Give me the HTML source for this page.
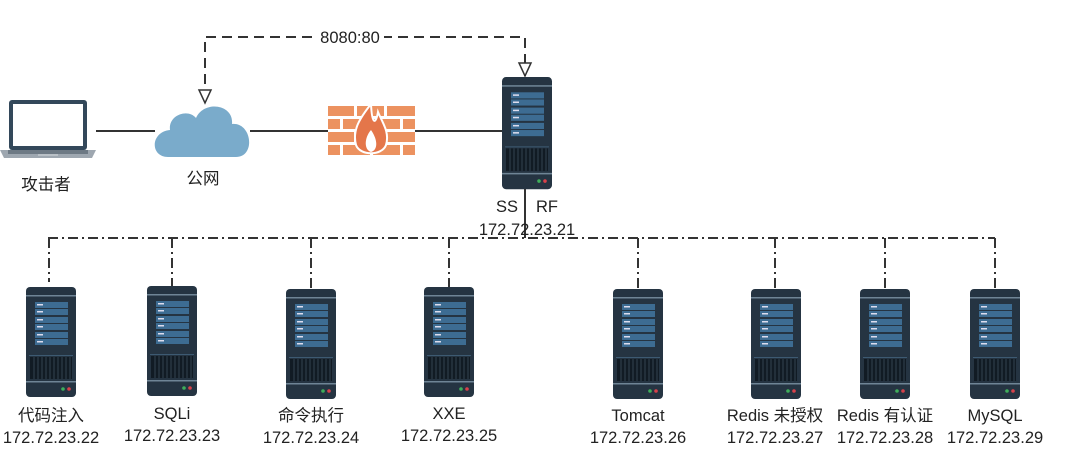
<!DOCTYPE html>
<html><head><meta charset="utf-8"><style>
html,body{margin:0;padding:0;background:#fff;}
svg{display:block;}
text{font-family:"Liberation Sans","Noto Sans CJK SC",sans-serif;fill:#222;font-size:16.5px;}
</style></head><body>
<svg width="1080" height="464" viewBox="0 0 1080 464" xmlns="http://www.w3.org/2000/svg">
<defs>
<g id="srv">
<rect x="0" y="0" width="50" height="110" rx="4" fill="#253442"/>
<rect x="0" y="8" width="50" height="1.5" fill="#6f8596"/>
<rect x="9" y="15" width="33" height="6" fill="#3d6c92"/>
<rect x="9" y="22" width="33" height="6" fill="#3d6c92"/>
<rect x="9" y="30" width="33" height="6" fill="#3d6c92"/>
<rect x="9" y="37" width="33" height="6" fill="#3d6c92"/>
<rect x="9" y="45" width="33" height="6" fill="#3d6c92"/>
<rect x="9" y="52" width="33" height="6" fill="#3d6c92"/>
<rect x="11" y="17" width="6" height="1.5" fill="#dde"/>
<rect x="11" y="24" width="6" height="1.5" fill="#dde"/>
<rect x="11" y="32" width="6" height="1.5" fill="#dde"/>
<rect x="11" y="39" width="6" height="1.5" fill="#dde"/>
<rect x="11" y="47" width="6" height="1.5" fill="#dde"/>
<rect x="11" y="54" width="6" height="1.5" fill="#dde"/>
<rect x="3" y="68" width="44" height="1" fill="#3d5a72"/>
<rect x="4" y="70" width="42" height="22" fill="#111b24"/>
<path d="M8 70v22M12 70v22M16 70v22M20 70v22M24 70v22M28 70v22M32 70v22M36 70v22M40 70v22M44 70v22" stroke="#33434f" stroke-width="1"/>
<rect x="0" y="94" width="50" height="1.5" fill="#6f8596"/>
<circle cx="37" cy="102" r="1.8" fill="#3fae5a"/>
<circle cx="43" cy="102" r="1.8" fill="#d8414a"/>
</g>
</defs>

<!-- dashed 8080:80 -->
<path d="M205 100 V37 H525 V76" fill="none" stroke="#333" stroke-width="2" stroke-dasharray="10,6"/>
<path d="M199 90 L211 90 L205 103 Z" fill="#fff" stroke="#333" stroke-width="1.5"/>
<path d="M519 63 L531 63 L525 76 Z" fill="#fff" stroke="#333" stroke-width="1.5"/>
<rect x="316" y="28" width="68" height="18" fill="#fff"/>
<text x="350" y="43" text-anchor="middle" font-size="17">8080:80</text>

<!-- solid lines -->
<path d="M96 131 H155 M250 131 H328 M415 131 H502" stroke="#333" stroke-width="2"/>

<!-- laptop -->
<rect x="9" y="100" width="78" height="50" rx="3" fill="#33485a"/>
<rect x="13" y="104" width="70" height="42" fill="#fff"/>
<path d="M0 150 H96 L92 158 H4 Z" fill="#9ea7b0"/>
<rect x="8" y="150" width="80" height="4" fill="#6d7984"/>
<rect x="38" y="154" width="20" height="2" fill="#b9c0c6"/>
<text x="46" y="190" text-anchor="middle" font-size="17">攻击者</text>

<!-- cloud -->
<path d="M168 157 C150 157 150 132 170 130 C168 115 188 108 196 118 C204 100 234 104 232 124 C252 122 256 157 236 157 Z" fill="#7aabcb"/>
<text x="203" y="184" text-anchor="middle" font-size="17">公网</text>

<!-- firewall -->
<g fill="#ec9260">
<rect x="328" y="106" width="26" height="10"/><rect x="357" y="106" width="27" height="10"/><rect x="387" y="106" width="28" height="10"/>
<rect x="328" y="119" width="12" height="10"/><rect x="343" y="119" width="27" height="10"/><rect x="373" y="119" width="27" height="10"/><rect x="403" y="119" width="12" height="10"/>
<rect x="328" y="132" width="26" height="10"/><rect x="357" y="132" width="27" height="10"/><rect x="387" y="132" width="28" height="10"/>
<rect x="328" y="145" width="12" height="10"/><rect x="343" y="145" width="27" height="10"/><rect x="373" y="145" width="27" height="10"/><rect x="403" y="145" width="12" height="10"/>
</g>
<path d="M371 104 C360 118 352 130 356 145 C360 156 382 156 386 145 C390 132 382 122 378 112 C376 124 372 126 371 104 Z" fill="#e4764a" stroke="#fff" stroke-width="2"/>
<path d="M371 130 C364 138 364 150 371 152 C378 150 378 140 371 130 Z" fill="#fff"/>

<!-- top server -->
<use href="#srv" transform="translate(502,77) scale(1,1.02)"/>
<path d="M525 189 V238" stroke="#333" stroke-width="2"/>
<rect x="494" y="196" width="28" height="18" fill="#fff"/>
<rect x="530" y="196" width="32" height="18" fill="#fff"/>
<text x="507" y="212" text-anchor="middle">SS</text>
<text x="547" y="212" text-anchor="middle">RF</text>
<text x="527" y="235" text-anchor="middle">172.72.23.21</text>

<!-- dash-dot bus -->
<path d="M48 238 H995" stroke="#333" stroke-width="2" stroke-dasharray="10,4,2,4" fill="none"/>
<g stroke="#333" stroke-width="2" stroke-dasharray="10,4,2,4" fill="none">
<path d="M49 238 V282"/><path d="M172 238 V288"/><path d="M311 238 V290"/><path d="M449 238 V288"/>
<path d="M638 238 V290"/><path d="M775 238 V290"/><path d="M885 238 V290"/><path d="M995 238 V290"/>
</g>

<use href="#srv" x="26" y="287"/>
<use href="#srv" x="147" y="286"/>
<use href="#srv" x="286" y="289"/>
<use href="#srv" x="424" y="287"/>
<use href="#srv" x="613" y="289"/>
<use href="#srv" x="751" y="289"/>
<use href="#srv" x="860" y="289"/>
<use href="#srv" x="970" y="289"/>

<g text-anchor="middle">
<text x="51" y="421">代码注入</text><text x="51" y="443">172.72.23.22</text>
<text x="172" y="419">SQLi</text><text x="172" y="441">172.72.23.23</text>
<text x="311" y="421">命令执行</text><text x="311" y="443">172.72.23.24</text>
<text x="449" y="419">XXE</text><text x="449" y="441">172.72.23.25</text>
<text x="638" y="421">Tomcat</text><text x="638" y="443">172.72.23.26</text>
<text x="775" y="421">Redis 未授权</text><text x="775" y="443">172.72.23.27</text>
<text x="885" y="421">Redis 有认证</text><text x="885" y="443">172.72.23.28</text>
<text x="995" y="421">MySQL</text><text x="995" y="443">172.72.23.29</text>
</g>
</svg>
</body></html>
